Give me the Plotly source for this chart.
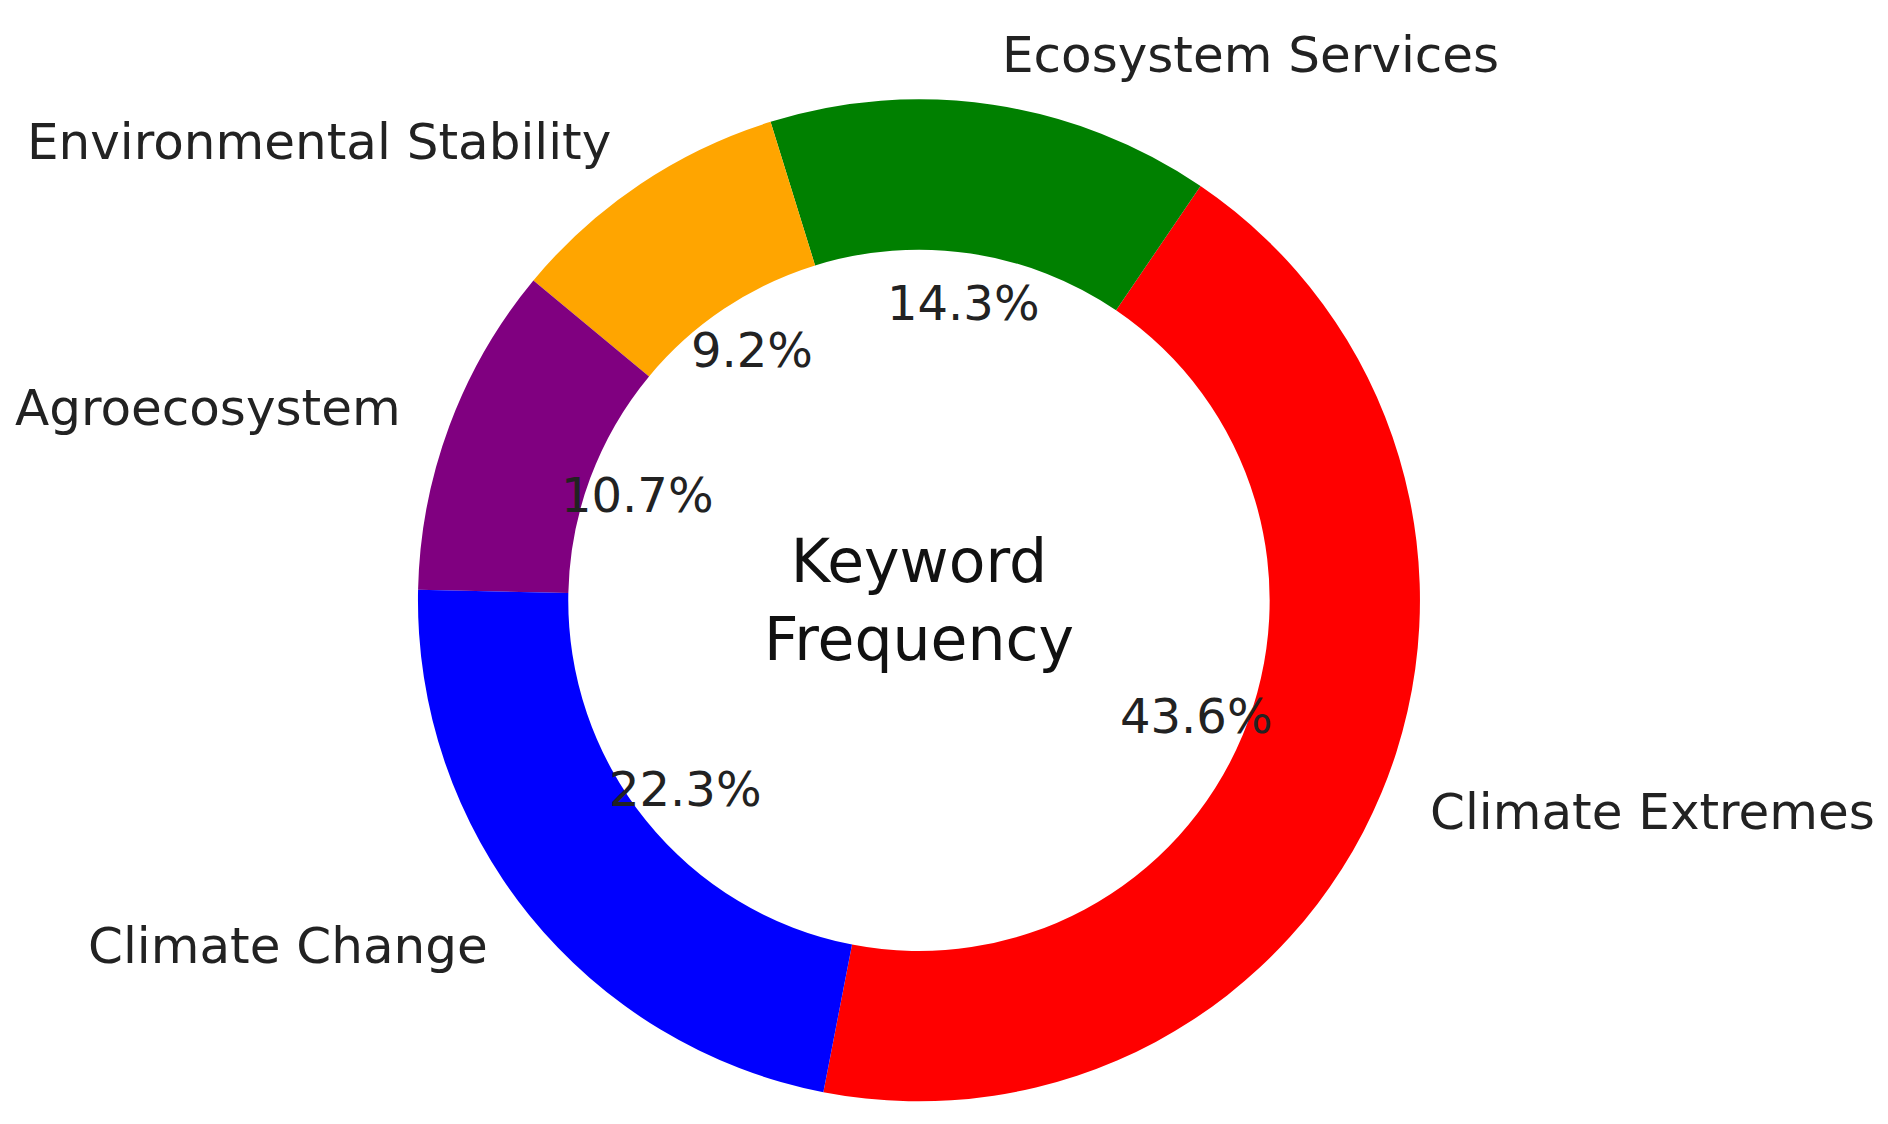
import math
import plotly.graph_objects as go

labels = ["Climate Extremes", "Ecosystem Services", "Environmental Stability", "Agroecosystem", "Climate Change"]
values = [43.6, 14.3, 9.2, 10.7, 22.3]
colors = ["red", "green", "orange", "purple", "blue"]
start_deg = -101  # math angle where first slice starts, counterclockwise

W, H = 1888, 1124
cx, cy = 0.4825, 0.473
R = 501
dom_x = [cx - R / W, cx + R / W]
dom_y = [cy - R / H, cy + R / H]

total = sum(values)
end_first = start_deg + 360 * values[0] / total

fig = go.Figure(go.Pie(
    labels=labels, values=values, marker=dict(colors=colors),
    hole=0.70, sort=False, direction="counterclockwise",
    rotation=90 - end_first, textinfo="none", showlegend=False,
    hoverinfo="label+percent", domain=dict(x=dom_x, y=dom_y),
))

font = "DejaVu Sans"
ann = []
a0 = start_deg
for lab, v in zip(labels, values):
    span = 360 * v / total
    mid = math.radians(a0 + span / 2)
    a0 += span
    c, s = math.cos(mid), math.sin(mid)
    ann.append(dict(x=cx + 1.1 * R * c / W, y=cy + 1.1 * R * s / H, xref="paper", yref="paper",
                    text=lab, showarrow=False, xanchor="left" if c > 0 else "right",
                    yanchor="middle", font=dict(family=font, size=50, color="#222")))
    ann.append(dict(x=cx + 0.6 * R * c / W, y=cy + 0.6 * R * s / H, xref="paper", yref="paper",
                    text=f"{v / total * 100:.1f}%", showarrow=False, xanchor="center",
                    yanchor="middle", font=dict(family=font, size=48, color="#222")))
ann.append(dict(x=cx, y=cy, xref="paper", yref="paper", text="Keyword<br>Frequency",
                showarrow=False, font=dict(family=font, size=60, color="#111"), align="center"))

fig.update_layout(width=W, height=H, margin=dict(l=0, r=0, t=0, b=0),
                  paper_bgcolor="white", annotations=ann)
fig.write_html("out.html")
